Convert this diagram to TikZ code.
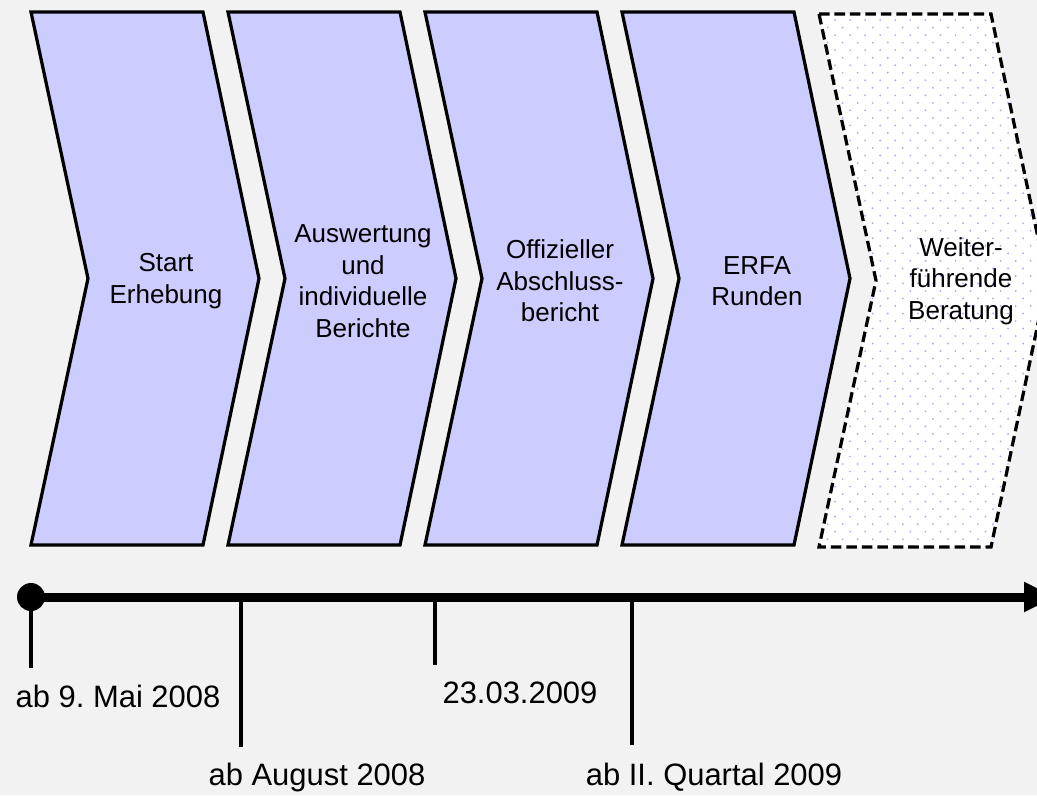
\documentclass[tikz,border=0pt]{standalone}
\usepackage{fontspec}
\setmainfont{Liberation Sans}
\usepackage{xcolor}
\usetikzlibrary{
  arrows.meta,
  patterns,
  positioning,
  calc
}

\definecolor{bgfill}{RGB}{242,242,242}
\definecolor{phasefill}{RGB}{204,204,255}
\definecolor{dotblue}{RGB}{175,175,245}

\pgfdeclarepatternformonly{lightdots}{\pgfqpoint{-1pt}{-1pt}}{\pgfqpoint{9.7pt}{9.7pt}}{\pgfqpoint{10.7pt}{10.7pt}}{
  \pgfpathcircle{\pgfqpoint{0pt}{0pt}}{0.75pt}
  \pgfpathcircle{\pgfqpoint{5.35pt}{5.35pt}}{0.75pt}
  \pgfusepath{fill}
}

\frenchspacing

\begin{document}
\begin{tikzpicture}[x=0.025cm,y=-0.025cm,
  phase/.style={draw=black,line width=2.3pt,fill=phasefill},
  later/.style={draw=black,line width=2.3pt,dash pattern=on 7.5pt off 3.5pt,
    preaction={fill=white},pattern=lightdots,pattern color=dotblue},
  phasetext/.style={align=center,font=\fontsize{18.5}{22.5}\selectfont},
  datum/.style={anchor=base,inner sep=0pt,font=\fontsize{22}{26}\selectfont},
  tick/.style={line width=2.4pt}]
  % Background
  \fill[bgfill] (0,0) rectangle (1037,795);
  \useasboundingbox (0,0) rectangle (1037,795);

  % Draw phases
  \foreach \i/\txt in {0/{Start\\Erhebung},1/{Auswertung\\und\\individuelle\\Berichte},
      2/{Offizieller\\Abschluss-\\bericht},3/{ERFA\\Runden}}{
    \draw[phase] (31+197*\i,12) -- ++(172,0) -- ++(56,266.5) -- ++(-56,266.5)
      -- ++(-172,0) -- ++(57,-266.5) -- cycle;
    \node[phasetext] (p\i) at (166+197*\i,281) {\txt};
  }

  % Next phase (planned)
  \draw[later] (819,14) -- ++(172,0) -- ++(56,266.5) -- ++(-56,266.5)
    -- ++(-172,0) -- ++(57,-266.5) -- cycle;
  \node[phasetext] (p4) at (961,281) {Weiter-\\führende\\Beratung};

  % Draw ticks
  \foreach \n/\x/\y in {0/31/668,1/241/747,2/435/665,3/632/745}{
    \coordinate (m\n) at (\x,597);
    \coordinate (e\n) at (\x,\y);
    \draw[tick] (m\n) -- (e\n);
  }

  % Draw time axis
  \coordinate (tend) at (1055,597);
  \draw[line width=6.4pt,-{Triangle[length=22pt,width=20pt]}] (m0) -- (tend);
  \fill (m0) circle (14);

  % Dates
  \node[datum] (d0) at (118,707) {ab 9. Mai 2008};
  \node[datum] (d1) at (317,785) {ab August 2008};
  \node[datum] (d2) at (520,703) {23.03.2009};
  \node[datum] (d3) at (714,785) {ab II. Quartal 2009};
\end{tikzpicture}
\end{document}
